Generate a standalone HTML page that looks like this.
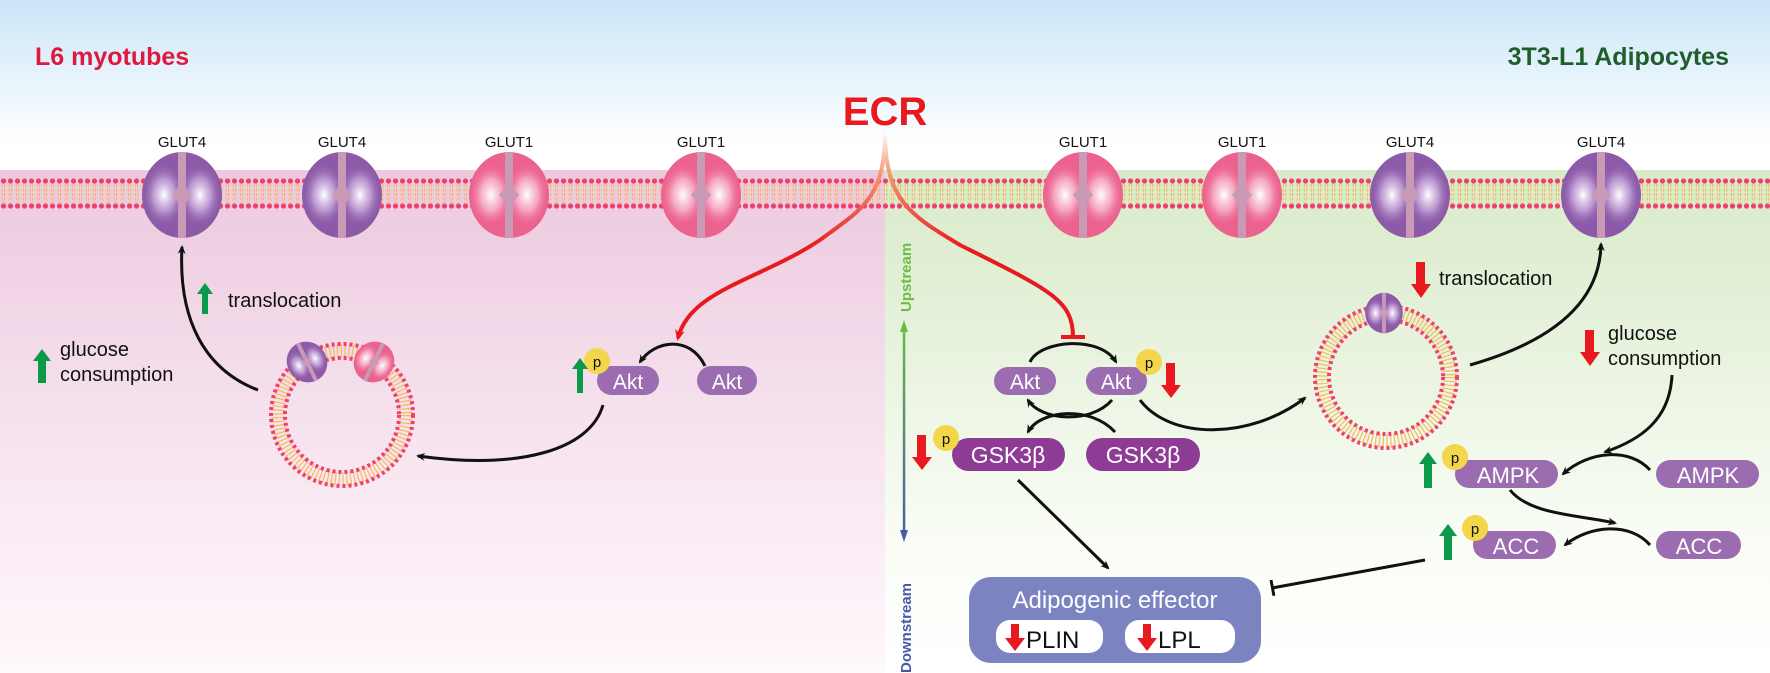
<!DOCTYPE html>
<html><head><meta charset="utf-8"><style>
html,body{margin:0;padding:0;background:#fff}
svg{display:block}
text{font-family:"Liberation Sans",Arial,sans-serif}
</style></head><body>
<svg width="1770" height="673" viewBox="0 0 1770 673" xmlns="http://www.w3.org/2000/svg">
<defs>
<linearGradient id="sky" x1="0" y1="0" x2="0" y2="170" gradientUnits="userSpaceOnUse"><stop offset="0" stop-color="#cbe6f8"/><stop offset="0.85" stop-color="#ffffff"/><stop offset="1" stop-color="#ffffff"/></linearGradient>
<linearGradient id="pinkbg" x1="0" y1="170" x2="0" y2="673" gradientUnits="userSpaceOnUse"><stop offset="0" stop-color="#ecc9de"/><stop offset="0.5" stop-color="#f6e2ee"/><stop offset="1" stop-color="#fff8fc"/></linearGradient>
<linearGradient id="greenbg" x1="0" y1="170" x2="0" y2="673" gradientUnits="userSpaceOnUse"><stop offset="0" stop-color="#d8eac9"/><stop offset="0.75" stop-color="#fafdf6"/><stop offset="1" stop-color="#ffffff"/></linearGradient>
<linearGradient id="updown" x1="0" y1="320" x2="0" y2="542" gradientUnits="userSpaceOnUse"><stop offset="0" stop-color="#6bbd45"/><stop offset="1" stop-color="#4a5aa8"/></linearGradient>
<linearGradient id="ecrg" x1="0" y1="130" x2="0" y2="250" gradientUnits="userSpaceOnUse"><stop offset="0" stop-color="#fff"/><stop offset="0.35" stop-color="#f59a7a"/><stop offset="1" stop-color="#e8191f"/></linearGradient>
<pattern id="lipid" x="0" y="178" width="7" height="31" patternUnits="userSpaceOnUse">
<circle cx="3.5" cy="3" r="2.6" fill="#ee3f6d"/><circle cx="3.5" cy="28" r="2.6" fill="#ee3f6d"/>
<line x1="2.3" y1="6" x2="2.3" y2="25" stroke="#f5b54a" stroke-width="1" stroke-dasharray="3,1.5"/>
<line x1="4.7" y1="6" x2="4.7" y2="25" stroke="#f5b54a" stroke-width="1" stroke-dasharray="3,1.5"/>
</pattern>
<radialGradient id="hp"><stop offset="0" stop-color="#fff"/><stop offset="0.5" stop-color="#c9a8db" stop-opacity="0.8"/><stop offset="1" stop-color="#8a58a6" stop-opacity="0"/></radialGradient>
<radialGradient id="hk"><stop offset="0" stop-color="#fff"/><stop offset="0.5" stop-color="#f7b7cd" stop-opacity="0.8"/><stop offset="1" stop-color="#ec628f" stop-opacity="0"/></radialGradient>
<marker id="ah" markerWidth="10" markerHeight="10" refX="7" refY="5" orient="auto" markerUnits="userSpaceOnUse"><path d="M0,1 L9,5 L0,9 L3,5 Z" fill="#111"/></marker>
<marker id="ahr" markerWidth="12" markerHeight="12" refX="8" refY="6" orient="auto" markerUnits="userSpaceOnUse"><path d="M0,1 L11,6 L0,11 L3,6 Z" fill="#e8191f"/></marker>
<marker id="tb" markerWidth="4" markerHeight="20" refX="2" refY="10" orient="auto" markerUnits="userSpaceOnUse"><rect x="0" y="2" width="3" height="16" fill="#111"/></marker>
<marker id="tbr" markerWidth="4" markerHeight="24" refX="2" refY="12" orient="auto" markerUnits="userSpaceOnUse"><rect x="0" y="0" width="4" height="24" fill="#e8191f"/></marker>
<g id="tp"><ellipse cx="0" cy="0" rx="40" ry="43" fill="#8c5aa8"/><ellipse cx="-18" cy="0" rx="22" ry="32" fill="url(#hp)"/><ellipse cx="18" cy="0" rx="22" ry="32" fill="url(#hp)"/><rect x="-4" y="-43" width="8" height="86" fill="#c99ab6"/><path d="M0,-12 L10,0 L0,12 L-10,0Z" fill="#c99ab6"/></g>
<g id="tk"><ellipse cx="0" cy="0" rx="40" ry="43" fill="#ec628f"/><ellipse cx="-18" cy="0" rx="22" ry="32" fill="url(#hk)"/><ellipse cx="18" cy="0" rx="22" ry="32" fill="url(#hk)"/><rect x="-4" y="-43" width="8" height="86" fill="#c99ab6"/><path d="M0,-12 L10,0 L0,12 L-10,0Z" fill="#c99ab6"/></g>
</defs>

<rect width="1770" height="673" fill="url(#sky)"/>
<rect x="0" y="170" width="885" height="503" fill="url(#pinkbg)"/>
<rect x="885" y="170" width="885" height="503" fill="url(#greenbg)"/>
<rect x="0" y="178" width="1770" height="31" fill="url(#lipid)"/>

<text x="35" y="65" font-size="25" font-weight="bold" fill="#e0173f">L6 myotubes</text>
<text x="1729" y="65" font-size="25" font-weight="bold" fill="#1f5e2c" text-anchor="end">3T3-L1 Adipocytes</text>
<text x="885" y="125" font-size="40" font-weight="bold" fill="#e8191f" text-anchor="middle">ECR</text>

<g font-size="15" fill="#111" text-anchor="middle">
<text x="182" y="147">GLUT4</text><text x="342" y="147">GLUT4</text><text x="509" y="147">GLUT1</text><text x="701" y="147">GLUT1</text>
<text x="1083" y="147">GLUT1</text><text x="1242" y="147">GLUT1</text><text x="1410" y="147">GLUT4</text><text x="1601" y="147">GLUT4</text>
</g>
<use href="#tp" x="182" y="195"/>
<use href="#tp" x="342" y="195"/>
<use href="#tk" x="509" y="195"/>
<use href="#tk" x="701" y="195"/>
<use href="#tk" x="1083" y="195"/>
<use href="#tk" x="1242" y="195"/>
<use href="#tp" x="1410" y="195"/>
<use href="#tp" x="1601" y="195"/>

<!-- ECR curves -->
<path d="M885,132 C885,200 860,210 820,240 C760,280 690,290 678,338" fill="none" stroke="url(#ecrg)" stroke-width="4" marker-end="url(#ahr)"/>
<path d="M885,132 C885,200 910,215 960,245 C1050,290 1073,300 1073,337" fill="none" stroke="url(#ecrg)" stroke-width="4" marker-end="url(#tbr)"/>

<!-- Left vesicle -->
<circle cx="342" cy="415" r="64" fill="none" stroke="#f5b54a" stroke-width="14" stroke-dasharray="1.2,2.6" opacity="0.9"/>
<circle cx="342" cy="415" r="71" fill="none" stroke="#ee3f6d" stroke-width="4" stroke-dasharray="3,3"/>
<circle cx="342" cy="415" r="57" fill="none" stroke="#ee3f6d" stroke-width="4" stroke-dasharray="3,3"/>
<g transform="translate(307,362) scale(0.5,0.48) rotate(-25)"><use href="#tp"/></g>
<g transform="translate(374,362) scale(0.5,0.48) rotate(25)"><use href="#tk"/></g>

<path d="M258,390 C205,370 178,320 182,247" fill="none" stroke="#111" stroke-width="3" marker-end="url(#ah)"/>
<path d="M205,283 l8,11 h-5 v20 h-6 v-20 h-5z" fill="#0a9a4a"/>
<text x="228" y="307" font-size="20" fill="#111">translocation</text>
<path d="M42,349 l9,12 h-5 v22 h-8 v-22 h-5z" fill="#0a9a4a"/>
<text x="60" y="356" font-size="20" fill="#111">glucose</text>
<text x="60" y="381" font-size="20" fill="#111">consumption</text>

<!-- Left Akt -->
<path d="M603,405 C590,450 520,470 418,456" fill="none" stroke="#111" stroke-width="3" marker-end="url(#ah)"/>
<path d="M705,366 C690,335 655,340 640,362" fill="none" stroke="#111" stroke-width="3" marker-end="url(#ah)"/>
<rect x="597" y="366" width="62" height="29" rx="14.5" fill="#9b6cb0"/>
<text x="628" y="389" font-size="21" fill="#fff" text-anchor="middle">Akt</text>
<circle cx="597" cy="361" r="13" fill="#f3d64a"/><text x="597" y="367" font-size="15" fill="#111" text-anchor="middle">p</text>
<path d="M580,358 l8,11 h-5 v24 h-6 v-24 h-5z" fill="#0a9a4a"/>
<rect x="697" y="366" width="60" height="29" rx="14.5" fill="#9b6cb0"/>
<text x="727" y="389" font-size="21" fill="#fff" text-anchor="middle">Akt</text>

<!-- Up/Down -->
<rect x="902.8" y="330" width="2.5" height="203" fill="url(#updown)"/>
<path d="M904,320 l-4,12 h8z" fill="#6bbd45"/><path d="M904,542 l-4,-12 h8z" fill="#4a5aa8"/>
<text transform="translate(911,312) rotate(-90)" font-size="15" font-weight="bold" fill="#6bbd45">Upstream</text>
<text transform="translate(911,673) rotate(-90)" font-size="15" font-weight="bold" fill="#4a5aa8">Downstream</text>

<!-- Right Akt / GSK -->
<path d="M1030,362 C1040,340 1100,335 1116,362" fill="none" stroke="#111" stroke-width="3" marker-end="url(#ah)"/>
<path d="M1112,400 C1090,425 1040,420 1028,400" fill="none" stroke="#111" stroke-width="3" marker-end="url(#ah)"/>
<path d="M1115,432 C1090,405 1040,410 1028,432" fill="none" stroke="#111" stroke-width="3" marker-end="url(#ah)"/>
<path d="M1140,400 C1170,440 1250,440 1305,398" fill="none" stroke="#111" stroke-width="3" marker-end="url(#ah)"/>
<rect x="994" y="367" width="62" height="28" rx="14" fill="#9b6cb0"/>
<text x="1025" y="389" font-size="21" fill="#fff" text-anchor="middle">Akt</text>
<rect x="1086" y="367" width="61" height="28" rx="14" fill="#9b6cb0"/>
<text x="1116" y="389" font-size="21" fill="#fff" text-anchor="middle">Akt</text>
<circle cx="1149" cy="362" r="13" fill="#f3d64a"/><text x="1149" y="368" font-size="15" fill="#111" text-anchor="middle">p</text>
<path d="M1166,363 h9 v22 h6 l-10,13 l-10,-13 h5z" fill="#e8191f"/>
<rect x="952" y="438" width="113" height="33" rx="16.5" fill="#8e3b96"/>
<text x="1008" y="463" font-size="23" fill="#fff" text-anchor="middle">GSK3β</text>
<rect x="1086" y="438" width="114" height="33" rx="16.5" fill="#8e3b96"/>
<text x="1143" y="463" font-size="23" fill="#fff" text-anchor="middle">GSK3β</text>
<circle cx="946" cy="438" r="13" fill="#f3d64a"/><text x="946" y="444" font-size="15" fill="#111" text-anchor="middle">p</text>
<path d="M917,435 h9 v22 h6 l-10,13 l-10,-13 h5z" fill="#e8191f"/>
<path d="M1018,480 L1108,568" fill="none" stroke="#111" stroke-width="3" marker-end="url(#ah)"/>

<!-- Adipogenic box -->
<rect x="969" y="577" width="292" height="86" rx="22" fill="#7b83c0"/>
<text x="1115" y="608" font-size="24" fill="#fff" text-anchor="middle">Adipogenic effector</text>
<rect x="996" y="620" width="107" height="33" rx="14" fill="#fff"/>
<rect x="1125" y="620" width="110" height="33" rx="14" fill="#fff"/>
<path d="M1011,624 h8 v14 h6 l-10,13 l-10,-13 h6z" fill="#e8191f"/>
<text x="1026" y="648" font-size="24" fill="#111">PLIN</text>
<path d="M1143,624 h8 v14 h6 l-10,13 l-10,-13 h6z" fill="#e8191f"/>
<text x="1158" y="648" font-size="24" fill="#111">LPL</text>

<!-- Right vesicle -->
<circle cx="1386" cy="377" r="64" fill="none" stroke="#f5b54a" stroke-width="14" stroke-dasharray="1.2,2.6" opacity="0.9"/>
<circle cx="1386" cy="377" r="71" fill="none" stroke="#ee3f6d" stroke-width="4" stroke-dasharray="3,3"/>
<circle cx="1386" cy="377" r="57" fill="none" stroke="#ee3f6d" stroke-width="4" stroke-dasharray="3,3"/>
<g transform="translate(1384,313) scale(0.47)"><use href="#tp"/></g>
<path d="M1470,365 C1540,345 1600,310 1601,244" fill="none" stroke="#111" stroke-width="3" marker-end="url(#ah)"/>
<path d="M1416,262 h9 v22 h6 l-10,14 l-10,-14 h5z" fill="#e8191f"/>
<text x="1439" y="285" font-size="20" fill="#111">translocation</text>
<path d="M1585,330 h9 v22 h6 l-10,14 l-10,-14 h5z" fill="#e8191f"/>
<text x="1608" y="340" font-size="20" fill="#111">glucose</text>
<text x="1608" y="365" font-size="20" fill="#111">consumption</text>
<path d="M1672,375 C1670,420 1640,440 1605,452" fill="none" stroke="#111" stroke-width="3" marker-end="url(#ah)"/>

<!-- AMPK / ACC -->
<path d="M1650,470 C1630,448 1590,450 1563,474" fill="none" stroke="#111" stroke-width="3" marker-end="url(#ah)"/>
<path d="M1510,490 C1530,515 1580,515 1615,523" fill="none" stroke="#111" stroke-width="3" marker-end="url(#ah)"/>
<path d="M1650,545 C1630,522 1590,525 1565,545" fill="none" stroke="#111" stroke-width="3" marker-end="url(#ah)"/>
<path d="M1425,560 L1272,588" fill="none" stroke="#111" stroke-width="3" marker-end="url(#tb)"/>
<rect x="1455" y="460" width="103" height="28" rx="14" fill="#9b6cb0"/>
<text x="1508" y="483" font-size="22" fill="#fff" text-anchor="middle">AMPK</text>
<rect x="1656" y="460" width="103" height="28" rx="14" fill="#9b6cb0"/>
<text x="1708" y="483" font-size="22" fill="#fff" text-anchor="middle">AMPK</text>
<circle cx="1455" cy="457" r="13" fill="#f3d64a"/><text x="1455" y="463" font-size="15" fill="#111" text-anchor="middle">p</text>
<path d="M1428,452 l9,12 h-5 v24 h-8 v-24 h-5z" fill="#0a9a4a"/>
<rect x="1473" y="531" width="83" height="28" rx="14" fill="#9b6cb0"/>
<text x="1516" y="554" font-size="22" fill="#fff" text-anchor="middle">ACC</text>
<rect x="1656" y="531" width="85" height="28" rx="14" fill="#9b6cb0"/>
<text x="1699" y="554" font-size="22" fill="#fff" text-anchor="middle">ACC</text>
<circle cx="1475" cy="528" r="13" fill="#f3d64a"/><text x="1475" y="534" font-size="15" fill="#111" text-anchor="middle">p</text>
<path d="M1448,524 l9,12 h-5 v24 h-8 v-24 h-5z" fill="#0a9a4a"/>
</svg>
</body></html>
